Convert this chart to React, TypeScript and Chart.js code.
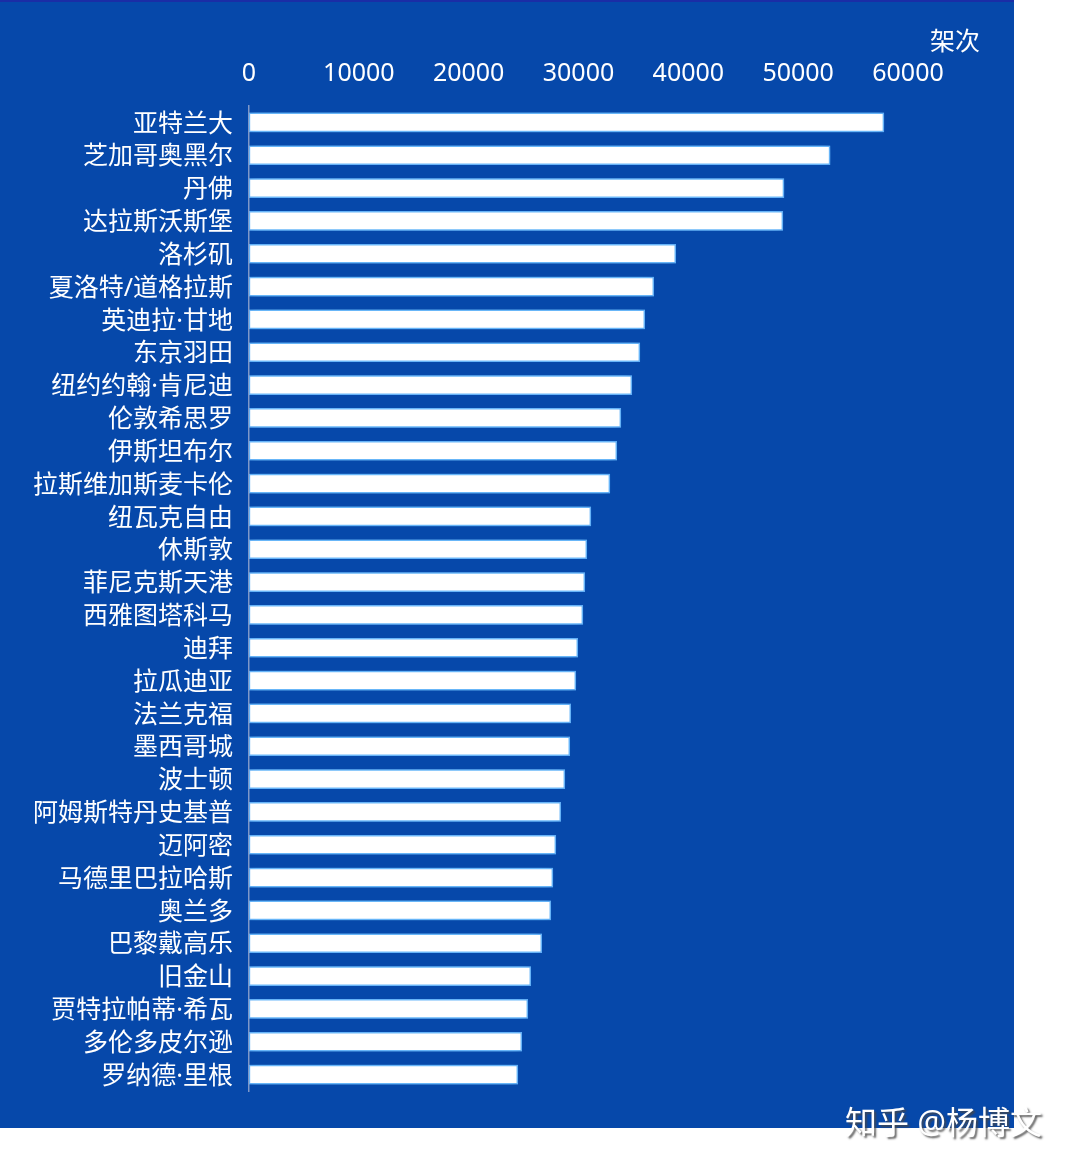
import React, { useEffect, useRef } from "react";
import { Chart, registerables } from "chart.js";

Chart.register(...registerables);

const airports = [
  "亚特兰大", "芝加哥奥黑尔", "丹佛", "达拉斯沃斯堡", "洛杉矶", "夏洛特/道格拉斯",
  "英迪拉·甘地", "东京羽田", "纽约约翰·肯尼迪", "伦敦希思罗", "伊斯坦布尔", "拉斯维加斯麦卡伦",
  "纽瓦克自由", "休斯敦", "菲尼克斯天港", "西雅图塔科马", "迪拜", "拉瓜迪亚",
  "法兰克福", "墨西哥城", "波士顿", "阿姆斯特丹史基普", "迈阿密", "马德里巴拉哈斯",
  "奥兰多", "巴黎戴高乐", "旧金山", "贾特拉帕蒂·希瓦", "多伦多皮尔逊", "罗纳德·里根",
];

const flights = [
  57800, 52900, 48700, 48600, 38850, 36850,
  36030, 35580, 34850, 33850, 33480, 32850,
  31120, 30750, 30570, 30390, 29930, 29750,
  29290, 29200, 28750, 28380, 27930, 27660,
  27470, 26650, 25650, 25380, 24830, 24470,
];

const axisTitle = "架次";
const watermark = "知乎 @杨博文";

const FONT = '"Noto Sans", "Noto Sans CJK SC", sans-serif';

export default function App() {
  const ref = useRef<HTMLCanvasElement | null>(null);

  useEffect(() => {
    if (!ref.current) return;
    const bgPlugin = {
      id: "bg",
      beforeDraw(chart: any) {
        const ctx = chart.ctx;
        ctx.save();
        ctx.fillStyle = "#ffffff";
        ctx.fillRect(0, 0, chart.width, chart.height);
        ctx.fillStyle = "#0648AA";
        ctx.fillRect(0, 0, 1014, 1128);
        ctx.fillStyle = "#1A2DA6";
        ctx.fillRect(0, 0, 1014, 2);
        ctx.restore();
      },
      beforeDatasetsDraw(chart: any) {
        const ctx = chart.ctx;
        ctx.save();
        ctx.shadowColor = "rgba(120,200,255,1)";
        ctx.shadowBlur = 10;
      },
      afterDatasetsDraw(chart: any) {
        chart.ctx.restore();
      },
      afterDraw(chart: any) {
        const ctx = chart.ctx;
        const yScale = chart.scales.y;
        ctx.save();
        ctx.font = `25px ${FONT}`;
        ctx.fillStyle = "#ffffff";
        ctx.textAlign = "right";
        ctx.textBaseline = "middle";
        airports.forEach((name, i) => {
          ctx.fillText(name, yScale.right - 16, yScale.getPixelForValue(i) + 2);
        });
        ctx.textAlign = "center";
        ctx.fillText(axisTitle, 955, 43);
        ctx.font = `32px ${FONT}`;
        ctx.textAlign = "left";
        ctx.textBaseline = "alphabetic";
        ctx.shadowColor = "rgba(70,70,70,0.85)";
        ctx.shadowOffsetX = 2;
        ctx.shadowOffsetY = 2;
        ctx.shadowBlur = 2;
        ctx.fillText(watermark, 845, 1134);
        ctx.restore();
      },
    };

    const chart = new Chart(ref.current, {
      type: "bar",
      data: {
        labels: airports,
        datasets: [
          {
            data: flights,
            backgroundColor: "#ffffff",
            borderColor: "rgba(100,175,250,0.9)",
            borderWidth: 1.5,
            borderSkipped: false,
            barThickness: 19,
          },
        ],
      },
      options: {
        indexAxis: "y",
        animation: false,
        responsive: false,
        maintainAspectRatio: false,
        layout: { padding: { left: 0, right: 165, top: 0, bottom: 76 } },
        plugins: {
          legend: { display: false },
          tooltip: { enabled: false },
        },
        scales: {
          x: {
            position: "top",
            min: 0,
            max: 60000,
            afterFit(s: any) {
              s.height = 106;
            },
            grid: { display: false, drawTicks: false },
            border: { display: false },
            ticks: {
              stepSize: 10000,
              color: "#ffffff",
              font: { family: FONT, size: 25 },
              padding: 17,
              maxRotation: 0,
              callback: (v: any) => String(v),
            },
          },
          y: {
            afterFit(s: any) {
              s.width = 249;
            },
            grid: { display: false, drawTicks: false },
            border: { display: true, color: "#7f98c8", width: 1.5 },
            ticks: {
              color: "rgba(0,0,0,0)",
              font: { family: FONT, size: 25 },
              padding: 16,
              autoSkip: false,
            },
          },
        },
      },
      plugins: [bgPlugin],
    });
    return () => chart.destroy();
  }, []);

  return (
    <div style={{ position: "absolute", left: 0, top: 0, width: 1073, height: 1167 }}>
      <canvas ref={ref} width={1073} height={1167} style={{ display: "block", width: 1073, height: 1167 }} />
    </div>
  );
}
